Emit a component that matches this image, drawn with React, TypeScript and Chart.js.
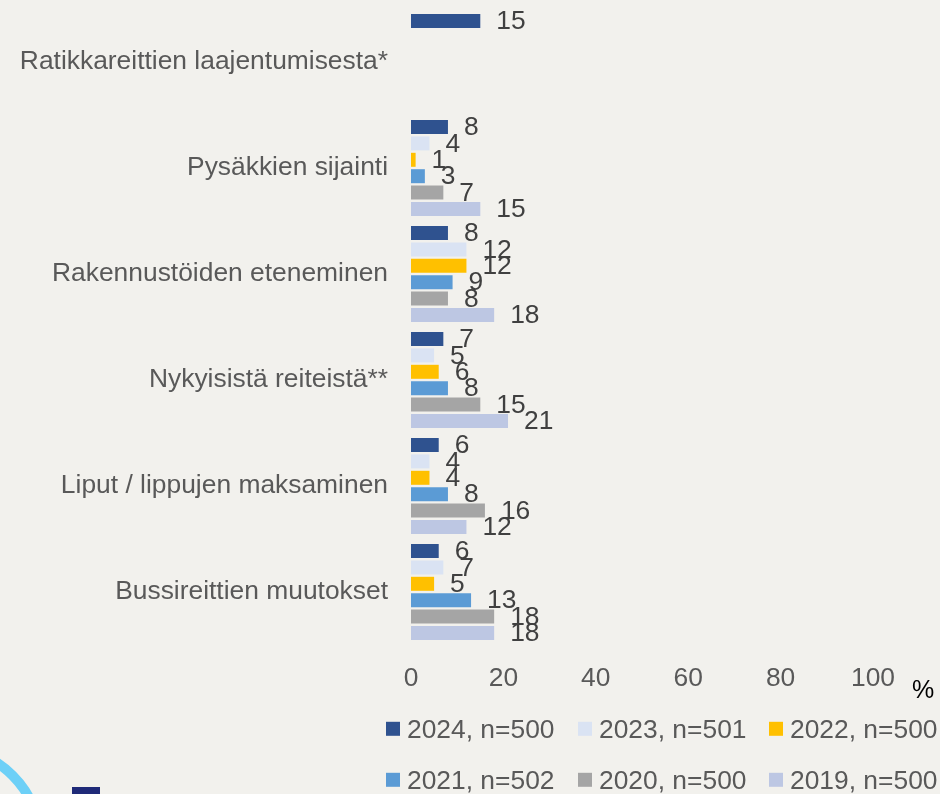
import React, { useEffect, useRef } from "react";
import { Chart, registerables } from "chart.js";

Chart.register(...registerables);

// ---- data ----
const categories = [
  "Ratikkareittien laajentumisesta*",
  "Pysäkkien sijainti",
  "Rakennustöiden eteneminen",
  "Nykyisistä reiteistä**",
  "Liput / lippujen maksaminen",
  "Bussireittien muutokset",
];
const seriesNames = [
  "2024, n=500",
  "2023, n=501",
  "2022, n=500",
  "2021, n=502",
  "2020, n=500",
  "2019, n=500",
];
const values2024 = [15, 8, 8, 7, 6, 6];
const values2023 = [null, 4, 12, 5, 4, 7];
const values2022 = [null, 1, 12, 6, 4, 5];
const values2021 = [null, 3, 9, 8, 8, 13];
const values2020 = [null, 7, 8, 15, 16, 18];
const values2019 = [null, 15, 18, 21, 12, 18];
const xTickValues = [0, 20, 40, 60, 80, 100];
const unitLabel = "%";

const seriesValues = [values2024, values2023, values2022, values2021, values2020, values2019];
const seriesColors = ["#2f528f", "#dae3f3", "#ffc000", "#5b9bd5", "#a5a5a5", "#bdc7e3"];

const FONT = '"Liberation Sans", Arial, sans-serif';
const FS = 26.4;
const TEXT = "#595959";

const valueLabels = {
  id: "valueLabels",
  afterDatasetsDraw(chart: any) {
    const ctx = chart.ctx;
    ctx.save();
    ctx.font = `${FS}px ${FONT}`;
    ctx.fillStyle = "#404040";
    ctx.textAlign = "left";
    ctx.textBaseline = "middle";
    chart.data.datasets.forEach((ds: any, i: number) => {
      const meta = chart.getDatasetMeta(i);
      meta.data.forEach((el: any, j: number) => {
        const v = ds.data[j];
        if (v === null || v === undefined) return;
        ctx.fillText(String(v), el.x + 16, el.y + 1);
      });
    });
    ctx.restore();
  },
};

export default function App() {
  const ref = useRef<HTMLCanvasElement | null>(null);

  useEffect(() => {
    if (!ref.current) return;
    const chart = new Chart(ref.current, {
      type: "bar",
      data: {
        labels: categories,
        datasets: seriesNames.map((name, i) => ({
          label: name,
          data: seriesValues[i],
          backgroundColor: seriesColors[i],
          borderWidth: 0,
          categoryPercentage: 0.928,
          barPercentage: 0.854,
        })),
      },
      options: {
        indexAxis: "y",
        responsive: false,
        animation: false,
        devicePixelRatio: 1,
        layout: { padding: { top: 9, right: 67, bottom: 88, left: 0 } },
        plugins: {
          legend: { display: false },
          tooltip: { enabled: false },
        },
        scales: {
          y: {
            grid: { display: false, drawTicks: false },
            border: { display: false },
            ticks: {
              color: TEXT,
              font: { family: FONT, size: FS },
              padding: 23,
            },
            afterFit: (s: any) => {
              s.width = 411;
              s.paddingTop = 0;
              s.paddingBottom = 0;
            },
          },
          x: {
            min: 0,
            max: 100,
            grid: { display: false, drawTicks: false },
            border: { display: false },
            afterBuildTicks: (s: any) => {
              s.ticks = xTickValues.map((v) => ({ value: v }));
            },
            ticks: {
              color: TEXT,
              font: { family: FONT, size: FS },
              padding: 18,
              maxRotation: 0,
              autoSkip: false,
            },
            afterFit: (s: any) => {
              s.height = 61;
              s.paddingLeft = 0;
              s.paddingRight = 0;
            },
          },
        },
      },
      plugins: [valueLabels],
    } as any);
    return () => chart.destroy();
  }, []);

  const colLeft = [386, 578, 769];
  const rowCenter = [729, 780];

  return (
    <div
      style={{
        position: "absolute",
        left: 0,
        top: 0,
        width: 940,
        height: 794,
        background: "#f2f1ed",
        overflow: "hidden",
        fontFamily: FONT,
      }}
    >
      <canvas ref={ref} width={940} height={794} style={{ position: "absolute", left: 0, top: 0 }} />
      <div
        style={{
          position: "absolute",
          left: 912,
          top: 689,
          transform: "translateY(-50%)",
          fontSize: 25,
          color: "#000",
          lineHeight: 1,
        }}
      >
        {unitLabel}
      </div>
      {seriesNames.map((name, i) => (
        <div
          key={name}
          style={{
            position: "absolute",
            left: colLeft[i % 3],
            top: rowCenter[Math.floor(i / 3)],
            transform: "translateY(-50%)",
            display: "flex",
            alignItems: "center",
            whiteSpace: "nowrap",
            fontSize: FS,
            color: TEXT,
            lineHeight: 1,
          }}
        >
          <span
            style={{
              display: "inline-block",
              width: 14,
              height: 14,
              background: seriesColors[i],
              marginRight: 7,
            }}
          />
          <span>{name}</span>
        </div>
      ))}
      {/* logo fragments */}
      <div
        style={{
          position: "absolute",
          left: -56 - 102,
          top: 844 - 102,
          width: 204,
          height: 204,
          borderRadius: "50%",
          boxSizing: "border-box",
          border: "10px solid #6dd0f7",
        }}
      />
      <div
        style={{
          position: "absolute",
          left: 72,
          top: 787,
          width: 28,
          height: 20,
          background: "#1f2a78",
        }}
      />
    </div>
  );
}
